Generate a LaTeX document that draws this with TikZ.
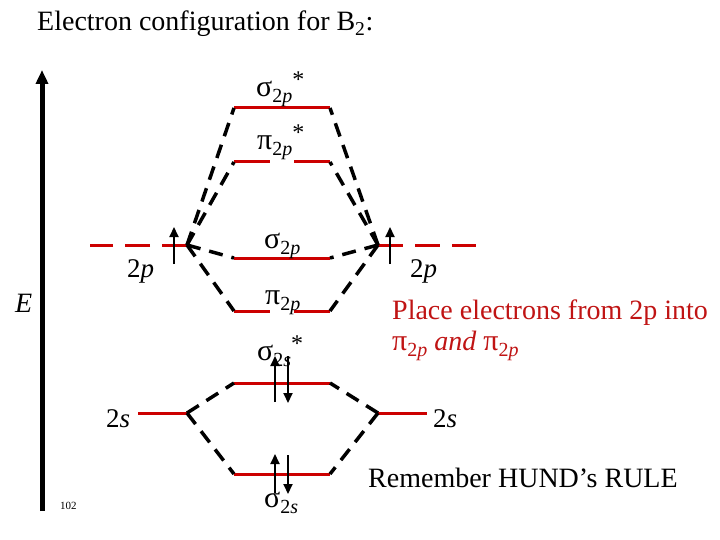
\documentclass[tikz,border=0pt]{standalone}
\usepackage{fontspec}
\setmainfont{Liberation Serif}
\usetikzlibrary{arrows.meta}
\definecolor{lvlred}{RGB}{204,0,0}
\definecolor{txtred}{RGB}{192,20,20}
\newcommand\mosub[1]{\raisebox{-6pt}{\fontsize{20}{22}\selectfont #1}}
\newcommand\mostar{\raisebox{9pt}{\fontsize{24}{26}\selectfont *}}
\newcommand\grk[1]{{\fontsize{30}{32}\selectfont #1}}
\begin{document}
\begin{tikzpicture}[x=1pt,y=-1pt,
  lvl/.style={draw=lvlred,line width=3pt},
  atomdash/.style={draw=lvlred,line width=3pt,dash pattern=on 25pt off 12pt},
  corr/.style={draw=black,line width=3.5pt,dash pattern=on 14pt off 9pt},
  elec/.style={draw=black,line width=2pt,-{Triangle[length=10pt,width=9pt]}},
  big/.style={font=\fontsize{28}{32}\selectfont,inner sep=0pt,anchor=base west},
  lab/.style={font=\fontsize{27}{31}\selectfont,inner sep=0pt,anchor=base west},
]
\useasboundingbox[fill=white] (0,0) rectangle (720,540);

% energy axis
\coordinate (eB) at (42,511);
\coordinate (eT) at (42,70);
\draw[line width=5pt,-{Triangle[length=14pt,width=12pt]}] (eB) -- (eT);

% atomic levels
\coordinate (L2p) at (187,245);
\coordinate (L2pE) at (90,245);
\coordinate (R2p) at (378,245);
\coordinate (R2pE) at (476,245);
\coordinate (L2s) at (187,413);
\coordinate (L2sE) at (138,413);
\coordinate (R2s) at (378,413);
\coordinate (R2sE) at (427,413);
\draw[atomdash] (L2p) -- (L2pE);
\draw[atomdash] (R2p) -- (R2pE);
\draw[lvl] (L2s) -- (L2sE);
\draw[lvl] (R2s) -- (R2sE);

% molecular levels
\coordinate (s2pxL) at (234,108); \coordinate (s2pxR) at (330,108);
\coordinate (p2pxL) at (234,162); \coordinate (p2pxA) at (270,162);
\coordinate (p2pxB) at (294,162); \coordinate (p2pxR) at (330,162);
\coordinate (s2pL) at (234,258); \coordinate (s2pR) at (330,258);
\coordinate (p2pL) at (234,311); \coordinate (p2pA) at (270,311);
\coordinate (p2pB) at (294,311); \coordinate (p2pR) at (330,311);
\coordinate (s2sxL) at (234,383); \coordinate (s2sxR) at (330,383);
\coordinate (s2sL) at (234,474); \coordinate (s2sR) at (330,474);
\draw[lvl] (s2pxL) -- (s2pxR);
\draw[lvl] (p2pxL) -- (p2pxA);
\draw[lvl] (p2pxB) -- (p2pxR);
\draw[lvl] (s2pL) -- (s2pR);
\draw[lvl] (p2pL) -- (p2pA);
\draw[lvl] (p2pB) -- (p2pR);
\draw[lvl] (s2sxL) -- (s2sxR);
\draw[lvl] (s2sL) -- (s2sR);

% correlation lines
\foreach \m in {s2pxL,p2pxL,s2pL,p2pL} \draw[corr] (L2p) -- (\m);
\foreach \m in {s2pxR,p2pxR,s2pR,p2pR} \draw[corr] (R2p) -- (\m);
\foreach \m in {s2sxL,s2sL} \draw[corr] (L2s) -- (\m);
\foreach \m in {s2sxR,s2sR} \draw[corr] (R2s) -- (\m);

% electrons
\coordinate (eL1) at (174,264); \coordinate (eL2) at (174,227);
\coordinate (eR1) at (390,264); \coordinate (eR2) at (390,227);
\draw[elec] (eL1) -- (eL2);
\draw[elec] (eR1) -- (eR2);
\coordinate (a1) at (275,402); \coordinate (a2) at (275,356);
\coordinate (b1) at (288,356); \coordinate (b2) at (288,403);
\draw[elec] (a1) -- (a2);
\draw[elec] (b1) -- (b2);
\coordinate (c1) at (275,493); \coordinate (c2) at (275,454);
\coordinate (d1) at (288,455); \coordinate (d2) at (288,494);
\draw[elec] (c1) -- (c2);
\draw[elec] (d1) -- (d2);

% labels
\node[big] (title) at (37,31) {Electron configuration for B\textsubscript{2}:};
\node[big] (E) at (15,312) {\textit{E}};
\node[font=\fontsize{11}{13}\selectfont,inner sep=0pt,anchor=base west] (pg) at (60,509) {102};
\node[lab] (l2pL) at (127,277) {2\textit{p}};
\node[lab] (l2pR) at (410,277) {2\textit{p}};
\node[lab] (l2sL) at (106,427) {2\textit{s}};
\node[lab] (l2sR) at (433,427) {2\textit{s}};
\node[lab] (ls2px) at (256,97) {\grk{σ}\mosub{2\textit{p}}\mostar};
\node[lab] (lp2px) at (257,150) {\grk{π}\mosub{2\textit{p}}\mostar};
\node[lab] (ls2p) at (264,248) {\grk{σ}\mosub{2\textit{p}}};
\node[lab] (lp2p) at (265,304) {\grk{π}\mosub{2\textit{p}}};
\node[lab] (ls2sx) at (257,360) {\grk{σ}\mosub{2\textit{s}}\mostar};
\node[lab] (ls2s) at (264,507) {\grk{σ}\mosub{2\textit{s}}};
\node[big,text=txtred] (note1) at (392,319) {Place electrons from 2p into};
\node[big,text=txtred] (note2) at (392,350) {\grk{π}\mosub{2\textit{p}} \textit{and} \grk{π}\mosub{2\textit{p}}};
\node[big] (hund) at (368,487) {Remember HUND’s RULE};
\end{tikzpicture}
\end{document}
